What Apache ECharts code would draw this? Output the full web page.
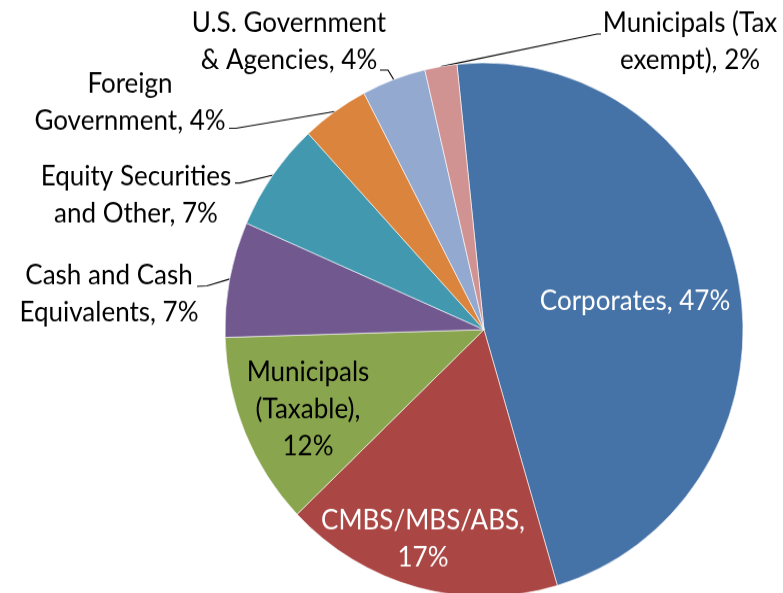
<!DOCTYPE html>
<html>
<head>
<meta charset="utf-8">
<script src="https://cdn.jsdelivr.net/npm/echarts@6/dist/echarts.min.js"></script>
<style>
  html { overflow: hidden; }
  body { margin: 0; padding: 0; background: #fff; height: 593px; }
  /* the source picture is stretched a little in height, so the pie is an ellipse */
  #main { width: 783px; height: 576px; transform: scale(1, 1.03); transform-origin: 0 0; }
</style>
</head>
<body>
<div id="main"></div>
<script>
var names = ['Corporates', 'CMBS/MBS/ABS', 'Municipals (Taxable)', 'Cash and Cash Equivalents',
             'Equity Securities and Other', 'Foreign Government', 'U.S. Government & Agencies', 'Municipals (Tax exempt)'];
var shares = [47.1, 17.4, 11.7, 7.0, 6.6, 4.2, 4.0, 2.0];
var labelFormats = [
    'Corporates, {d}%',
    'CMBS/MBS/ABS,\n{d}%',
    'Municipals\n(Taxable),\n{d}%',
    'Cash and Cash\nEquivalents, {d}%',
    'Equity Securities\nand Other, {d}%',
    'Foreign\nGovernment, {d}%',
    'U.S. Government\n& Agencies, {d}%',
    'Municipals (Tax\nexempt), {d}%'
];
var colors = ['#4572A7', '#AA4643', '#89A54E', '#71588F', '#4198AF', '#DB843D', '#93A9CF', '#D19392'];

// where each label sits (centre of the text block) and the bends of its leader line
var labelSpots = [[635, 293], [423, 524], [308, 398], [109, 286], [136, 190], [130, 100], [289, 41], [690, 41]];
var leaderEnds = [null, null, null,
    [[207, 277.5], [197, 278]],
    [[240, 177.7], [235, 177.7]],
    [[236, 124.5], [229, 124.5]],
    [[388, 68], [380, 68]],
    [[597, 33], [601, 33]]
];

var myChart = echarts.init(document.getElementById('main'));

var pieData = names.map(function (n, i) {
    var inside = !leaderEnds[i];
    return {
        name: n,
        value: shares[i],
        itemStyle: { color: colors[i] },
        label: { formatter: labelFormats[i], color: inside && i < 2 ? '#fff' : '#000' },
        labelLine: { show: !inside }
    };
});

var option = {
    animation: false,
    series: [
        {
            type: 'pie',
            center: [484, 320],
            radius: 259,
            startAngle: 96,
            clockwise: true,
            percentPrecision: 0,
            avoidLabelOverlap: false,
            itemStyle: { borderColor: '#fff', borderWidth: 0.6 },
            emphasis: { disabled: true },
            label: {
                show: true,
                position: 'outside',
                fontFamily: 'Lato',
                fontSize: 26,
                lineHeight: 36,
                align: 'center'
            },
            labelLine: {
                show: true,
                length: 10,
                length2: 10,
                lineStyle: { color: '#000', width: 1.2 }
            },
            labelLayout: function (params) {
                var i = params.dataIndex;
                var out = { x: labelSpots[i][0], y: labelSpots[i][1], align: 'center', verticalAlign: 'middle' };
                var p = params.labelLinePoints;
                if (leaderEnds[i] && p) {
                    out.labelLinePoints = [[p[0][0], p[0][1]]].concat(leaderEnds[i]);
                }
                return out;
            },
            data: pieData
        }
    ]
};

myChart.setOption(option);
</script>
</body>
</html>
